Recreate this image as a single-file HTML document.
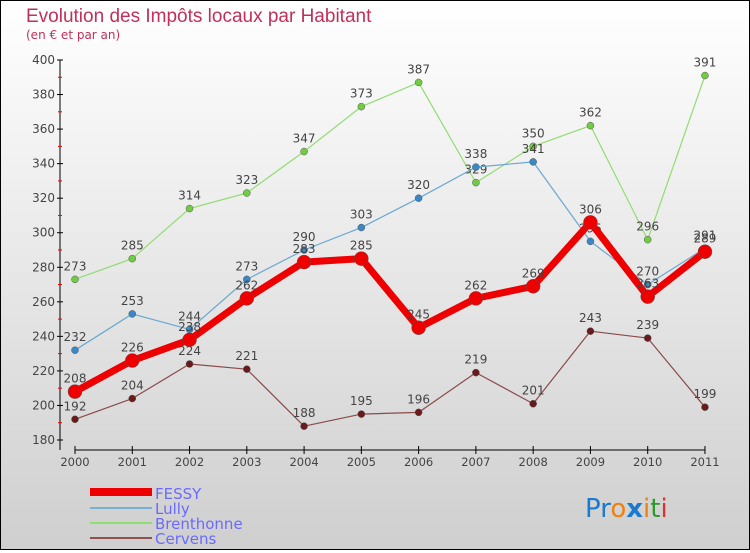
<!DOCTYPE html>
<html><head><meta charset="utf-8"><style>
html,body{margin:0;padding:0}
body{width:750px;height:550px;overflow:hidden;font-family:"DejaVu Sans","Liberation Sans",sans-serif}
#c{position:absolute;left:0;top:0;width:748px;height:548px;border:1px solid #000;background:linear-gradient(#fff,#cfcfcf)}
</style></head><body>
<div id="c">
<svg id="s" width="748" height="548" viewBox="1 1 748 548" xmlns="http://www.w3.org/2000/svg">
<text x="26" y="22" font-size="19" fill="#c0305a" font-family="Liberation Sans,sans-serif" font-weight="300">Evolution des Impôts locaux par Habitant</text>
<text x="26" y="39" font-size="12" fill="#c0305a">(en € et par an)</text>
<g id="axes"></g><g id="series"></g>
<g>
<rect x="90" y="488" width="62" height="8" fill="#e00"/>
<text x="155" y="499" font-size="15" fill="#6a6aff">FESSY</text>
<rect x="90" y="507" width="62" height="2" fill="#7ab0d0"/>
<text x="155" y="514" font-size="15" fill="#6a6aff">Lully</text>
<rect x="90" y="522" width="62" height="2" fill="#90dd70"/>
<text x="155" y="529" font-size="15" fill="#6a6aff">Brenthonne</text>
<rect x="90" y="537" width="62" height="2" fill="#905050"/>
<text x="155" y="544" font-size="15" fill="#6a6aff">Cervens</text>
</g>
<g font-size="26" font-family="DejaVu Sans,sans-serif">
<text x="585" y="517"><tspan fill="#1a7ad0">Pr</tspan><tspan fill="#f08010">o</tspan><tspan fill="#1a7ad0" font-weight="bold">x</tspan><tspan fill="#f08010">i</tspan><tspan fill="#2a9a2a">t</tspan><tspan fill="#e03030">i</tspan></text>
</g>
</svg></div>
<script>
const years=["2000","2001","2002","2003","2004","2005","2006","2007","2008","2009","2010","2011"];
const yTicks=[180,200,220,240,260,280,300,320,340,360,380,400];
const fessy=[208,226,238,262,283,285,245,262,269,306,263,289];
const lully=[232,253,244,273,290,303,320,338,341,295,270,291];
const brenthonne=[273,285,314,323,347,373,387,329,350,362,296,391];
const cervens=[192,204,224,221,188,195,196,219,201,243,239,199];
const NS="http://www.w3.org/2000/svg";
const X=i=>75+i*57.27, Y=v=>440-(v-180)*380/220;
function mk(t,a,p){const e=document.createElementNS(NS,t);for(const k in a)e.setAttribute(k,a[k]);p.appendChild(e);return e;}
const ax=document.getElementById('axes');
let l=mk('line',{x1:60,y1:60,x2:60,y2:450,stroke:'#000'},ax);


l=mk('line',{x1:75,y1:450,x2:705,y2:450,stroke:'#000'},ax);


yTicks.forEach((v,i)=>{
 mk('line',{x1:57,y1:Y(v),x2:63,y2:Y(v),stroke:'#000'},ax);
 if(i<yTicks.length-1)mk('line',{x1:58,y1:Y(v+10),x2:62,y2:Y(v+10),stroke:'#e00'},ax);
 const t=mk('text',{x:55,y:Y(v)+4,'font-size':12,fill:'#444','text-anchor':'end'},ax);t.textContent=v;
 
 
});
years.forEach((y,i)=>{
 mk('line',{x1:X(i),y1:446,x2:X(i),y2:454,stroke:'#000'},ax);
 const t=mk('text',{x:X(i),y:466,'font-size':11.5,fill:'#444','text-anchor':'middle'},ax);t.textContent=y;
 
 
});
const sg=document.getElementById('series');
function series(name,data,col,w,r,dot){
 const g=mk('g',{},sg);
 
 
 mk('polyline',{points:data.map((v,i)=>X(i)+','+Y(v)).join(' '),fill:'none',stroke:col,'stroke-width':w,'stroke-linejoin':'round'},g);
 data.forEach((v,i)=>{
  const c=mk('circle',{cx:X(i),cy:Y(v),r:r,fill:dot,stroke:'#555','stroke-width':0.5},g);
  
  
  const t=mk('text',{x:X(i),y:Y(v)-9,'font-size':12,fill:'#444','text-anchor':'middle'},g);t.textContent=v;
  
  
 });
}
series('cervens',cervens,'#8a4a4a',1.2,3.5,'#6a1a1a');
series('brenthonne',brenthonne,'#90dd70',1.2,3.5,'#70cc40');
series('lully',lully,'#6aa8d0',1.2,3.5,'#3a88c8');
series('fessy',fessy,'#ee0000',7,7,'#ee0000');
</script>
</body></html>
